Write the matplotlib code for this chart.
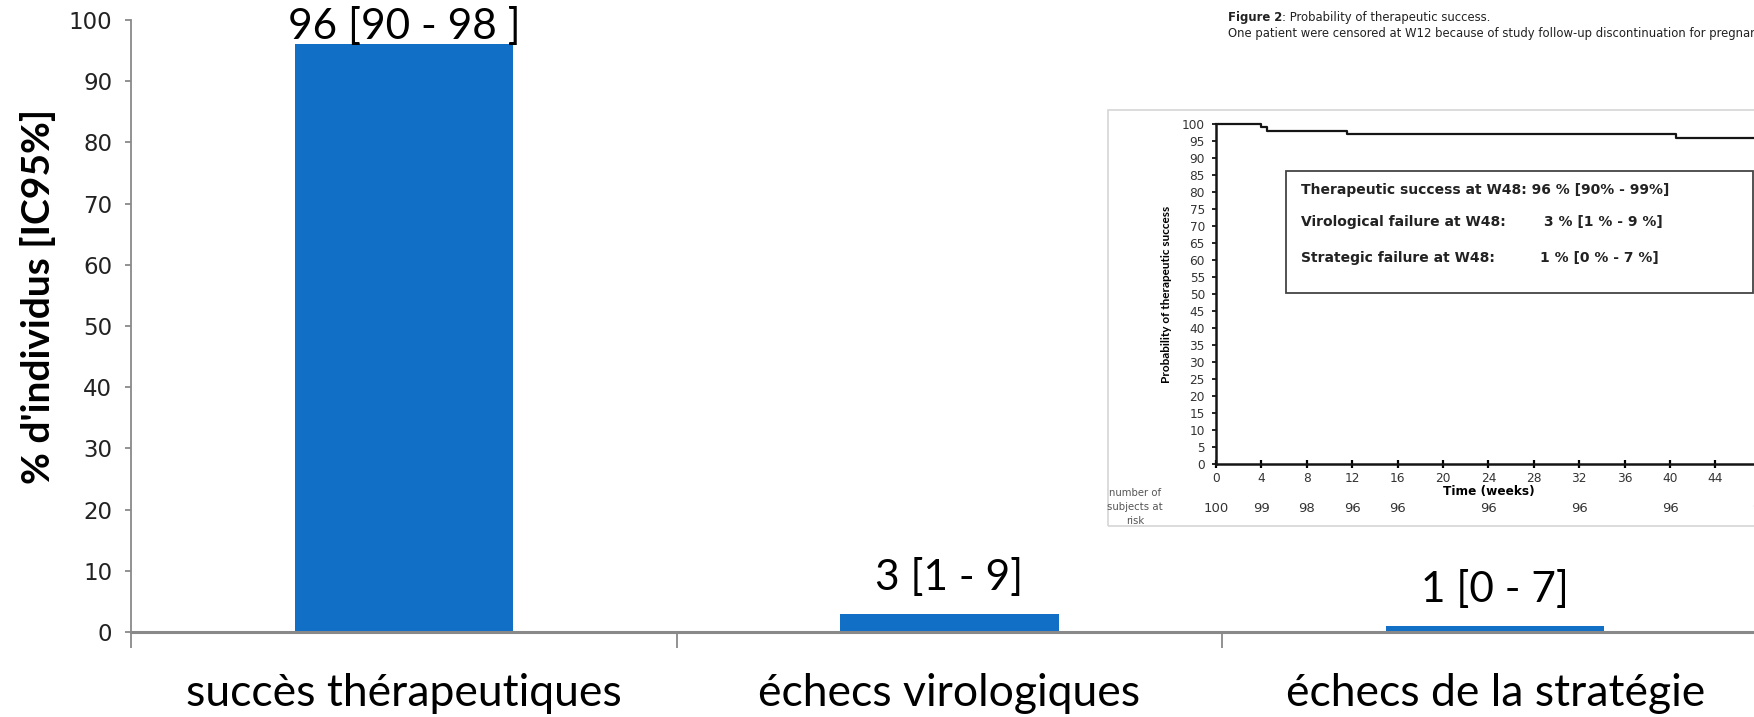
import matplotlib
matplotlib.use("Agg")
import matplotlib.pyplot as plt
from matplotlib.patches import Rectangle
from matplotlib.transforms import blended_transform_factory

# ---- bar chart data ----
categories = ["succès thérapeutiques", "échecs virologiques", "échecs de la stratégie"]
percent = [96, 3, 1]
ci_low = [90, 1, 0]
ci_high = [98, 9, 7]
bracket_space = [" ", "", ""]

# ---- Kaplan-Meier curve (probability of therapeutic success) ----
km_weeks = [0, 4.0, 4.5, 11.5, 40.5, 50]
km_success = [100, 99, 98, 97, 96, 96]
week_ticks = list(range(0, 45, 4))
risk_weeks = [0, 4, 8, 12, 16, 24, 32, 40, 48]
at_risk = [100, 99, 98, 96, 96, 96, 96, 96, 96]

summary_labels = ["Therapeutic success at W48:", "Virological failure at W48:",
                  "Strategic failure at W48:"]
summary_values = ["96 % [90% - 99%]", "3 % [1 % - 9 %]", "1 % [0 % - 7 %]"]

W, H = 1754, 717
fig = plt.figure(figsize=(W / 100, H / 100), dpi=100)
fig.patch.set_facecolor("white")


def fx(px):
    return px / W


def fy(py):
    return 1 - py / H


GREY = "#898989"
BLUE = "#1170c6"
SANS = "Lato"

# ---------------- main bar chart ----------------
ax = fig.add_axes([fx(131), fy(632), (1768 - 131) / W, 612 / H])
x = list(range(len(categories)))
ax.bar(x, percent, width=0.4, color=BLUE, zorder=2)
ax.set_xlim(-0.5, 2.5)
ax.set_ylim(0, 100)
for s in ("top", "right"):
    ax.spines[s].set_visible(False)
ax.spines["left"].set_color(GREY)
ax.spines["left"].set_linewidth(1.3)
ax.spines["bottom"].set_color(GREY)
ax.spines["bottom"].set_linewidth(2.2)

ax.set_yticks(range(0, 101, 10))
ax.tick_params(axis="y", direction="out", length=4.5, width=1.3, color=GREY,
               labelsize=16.5, labelcolor="#222222", pad=9)

ax.set_xticks([-0.5, 0.5, 1.5, 2.5])
ax.set_xticklabels([])
ax.tick_params(axis="x", which="major", direction="out", length=11.5, width=1.3, color=GREY)
ax.set_xticks(x, minor=True)
ax.set_xticklabels(categories, minor=True)
ax.tick_params(axis="x", which="minor", length=0, pad=29.5, labelsize=32, labelcolor="black")
for lab in ax.get_xticklabels(minor=True):
    lab.set_fontfamily(SANS)

fig.text(fx(38), fy(296), "% d'individus [IC95%]", rotation=90, ha="center", va="center",
         fontsize=28, fontweight="bold", family=SANS)

label_offsets = [4.2, 17, 17]
for i, (p, lo, hi, sp) in enumerate(zip(percent, ci_low, ci_high, bracket_space)):
    ax.annotate(f"{p} [{lo} - {hi}{sp}]", xy=(i, p), xytext=(0, label_offsets[i]),
                textcoords="offset points", ha="center", va="baseline",
                fontsize=30.5, family=SANS, color="black", annotation_clip=False)

# ---------------- inset: Kaplan-Meier figure ----------------
fig.add_artist(Rectangle((fx(1108), fy(526)), fx(1770) - fx(1108), fy(110) - fy(526),
                         transform=fig.transFigure, fill=False, ec="#d6d6d6", lw=1.2))

t1 = fig.text(fx(1228), fy(17), "Figure 2", ha="left", va="center", fontsize=8.4,
              fontweight="bold", color="#222222")
ax.annotate(": Probability of therapeutic success.", xy=(1, 0), xycoords=t1,
            ha="left", va="bottom", fontsize=8.4, color="#222222", annotation_clip=False)
fig.text(fx(1228), fy(33), "One patient were censored at W12 because of study follow-up "
         "discontinuation for pregnancy.", ha="left", va="center", fontsize=8.4,
         color="#222222")

px_per_week = 11.35
ins = fig.add_axes([fx(1216), fy(464), 50 * px_per_week / W, 340 / H])
ins.patch.set_alpha(0)
ins.step(km_weeks, km_success, where="post", color="#151515", lw=1.6, clip_on=False)
ins.set_xlim(0, 50)
ins.set_ylim(0, 100)
for s in ("top", "right"):
    ins.spines[s].set_visible(False)
for s in ("left", "bottom"):
    ins.spines[s].set_linewidth(1.8)
    ins.spines[s].set_color("#151515")
ins.set_yticks(range(0, 101, 5))
ins.set_xticks(week_ticks)
ins.tick_params(axis="y", direction="out", length=3, width=1.2, pad=5,
                labelsize=8.7, labelcolor="#333333")
ins.tick_params(axis="x", direction="inout", length=6, width=1.6, pad=3,
                labelsize=8.7, labelcolor="#333333")

fig.text(fx(1166), fy(294), "Probability of therapeutic success", rotation=90,
         ha="center", va="center", fontsize=8.5, fontweight="bold", family=SANS)
fig.text(fx(1489), fy(492), "Time (weeks)", ha="center", va="center",
         fontsize=8.75, fontweight="bold")
fig.text(fx(1135), fy(507), "number of\nsubjects at\nrisk", ha="center", va="center",
         fontsize=7.3, linespacing=1.55, color="#555555")

tr = blended_transform_factory(ins.transData, fig.transFigure)
for w, n in zip(risk_weeks, at_risk):
    ins.text(w, fy(508), str(n), transform=tr, ha="center", va="center",
             fontsize=9.5, color="#333333")

fig.add_artist(Rectangle((fx(1286), fy(293)), fx(1753) - fx(1286), fy(171) - fy(293),
                         transform=fig.transFigure, fill=False, ec="#444444", lw=1.3))
line_y = [190, 222, 258]
value_right = [None, 1663, 1659]
for i, (lab, val) in enumerate(zip(summary_labels, summary_values)):
    if i == 0:
        fig.text(fx(1301), fy(line_y[i]), f"{lab} {val}", ha="left", va="center",
                 fontsize=10, fontweight="bold", color="#222222")
    else:
        fig.text(fx(1301), fy(line_y[i]), lab, ha="left", va="center",
                 fontsize=10, fontweight="bold", color="#222222")
        fig.text(fx(value_right[i]), fy(line_y[i]), val, ha="right", va="center",
                 fontsize=10, fontweight="bold", color="#222222")

fig.savefig("out.png", dpi=100, facecolor="white")
